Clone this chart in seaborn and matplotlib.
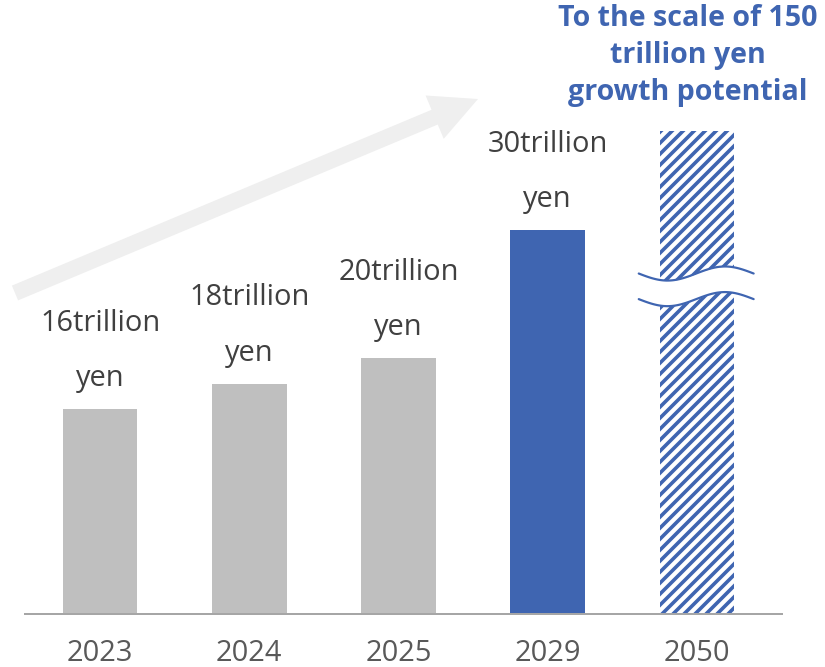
import numpy as np
import pandas as pd
import matplotlib
matplotlib.use("Agg")
import matplotlib.pyplot as plt
from matplotlib.patches import FancyArrow
from matplotlib.transforms import IdentityTransform
import seaborn as sns

# ---- data -------------------------------------------------------------
years = ["2023", "2024", "2025", "2029", "2050"]
values = [16, 18, 20, 30, 150]          # trillion yen
value_labels = ["16trillion\nyen", "18trillion\nyen", "20trillion\nyen", "30trillion\nyen", ""]
outlook_note = "To the scale of 150\ntrillion yen\ngrowth potential"

# ---- styling ----------------------------------------------------------
DPI = 66
W, H = 825, 667


def pt(px):
    """convert a size in pixels to points at the figure dpi"""
    return px * 72.0 / DPI


GRAY = "#BFBFBF"
BLUE = "#3F65B1"
TEXT = "#404040"
TICK = "#595959"

sns.set_style("white")
plt.rcParams["font.family"] = ["Open Sans", "DejaVu Sans"]
plt.rcParams["hatch.linewidth"] = pt(3.6)

fig = plt.figure(figsize=(W / DPI, H / DPI), dpi=DPI)
ax = fig.add_axes([25 / W, (H - 614) / H, (782 - 25) / W, (614 - 131) / H])
ax.set_facecolor("none")

df = pd.DataFrame({"year": years, "value": values})
palette = [GRAY, GRAY, GRAY, BLUE, "white"]
sns.barplot(data=df, x="year", y="value", hue="year", palette=palette,
            legend=False, width=0.5, saturation=1, ax=ax, linewidth=0)

# 2050 bar: hatched outlook bar
outlook = ax.patches[-1]
outlook.set_facecolor("white")
outlook.set_edgecolor(BLUE)
outlook.set_hatch("//")
outlook.set_linewidth(0)

ax.set_xlim(-0.503, 4.57)
ax.set_ylim(0, 483 / 12.8)

# value labels above the measured bars
for i, (v, lab) in enumerate(zip(values, value_labels)):
    if lab:
        ax.annotate(lab, xy=(i, v), xytext=(0, pt(16)), textcoords="offset points",
                    ha="center", va="bottom", fontsize=pt(29), color=TEXT,
                    linespacing=2.2)

# axis break on the outlook bar
bx = np.linspace(4 - 0.39, 4 + 0.38, 100)
t = (bx - bx[0]) / (bx[-1] - bx[0])
wave = -np.sin(2 * np.pi * t) * 0.55
upper = 26.6 + wave
lower = 24.6 + wave
ax.fill_between(bx, lower, upper, color="white", zorder=5, clip_on=False, linewidth=0)
ax.plot(bx, upper, color=BLUE, lw=pt(2.2), zorder=6, clip_on=False, solid_capstyle="round")
ax.plot(bx, lower, color=BLUE, lw=pt(2.2), zorder=6, clip_on=False, solid_capstyle="round")

# axes cosmetics
sns.despine(ax=ax, left=True)
ax.spines["bottom"].set_color("#A6A6A6")
ax.spines["bottom"].set_linewidth(pt(2))
ax.set_yticks([])
ax.set_xlabel("")
ax.set_ylabel("")
ax.tick_params(axis="x", length=0, pad=pt(25), labelsize=pt(29), labelcolor=TICK)

# growth arrow
arrow = FancyArrow(15, H - 293, 463, 194, width=16, head_width=47, head_length=47,
                   length_includes_head=True, color="#EFEFEF", lw=0,
                   transform=IdentityTransform(), zorder=0.5)
fig.add_artist(arrow)

# outlook note
fig.text(688 / W, 1 - 4 / H, outlook_note, ha="center", va="top",
         fontsize=pt(28.6), fontweight="bold", color=BLUE, linespacing=1.36)

fig.savefig("out.png", dpi=DPI)
